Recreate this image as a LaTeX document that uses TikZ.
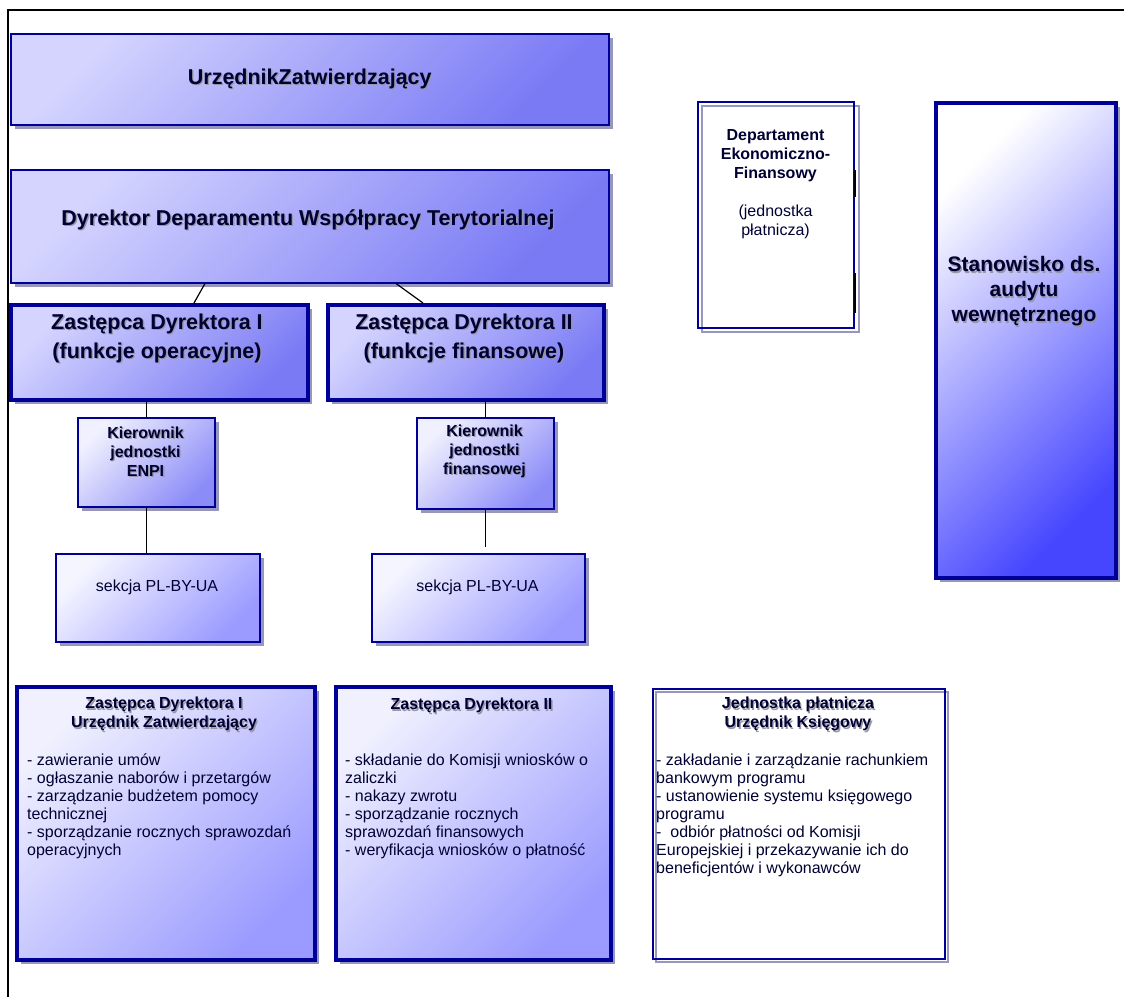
\documentclass[tikz,border=0pt]{standalone}
\usepackage{fontspec}
\setmainfont{Liberation Sans}
\usetikzlibrary{shadows}
\definecolor{bordc}{RGB}{0,0,153}
\definecolor{shadc}{RGB}{150,150,190}
\definecolor{txtc}{RGB}{0,0,51}
\definecolor{tshad}{RGB}{150,150,165}
\definecolor{c1l}{RGB}{212,212,255}
\definecolor{c1d}{RGB}{122,122,245}
\definecolor{kl}{RGB}{240,240,255}
\definecolor{kd}{RGB}{140,140,248}
\definecolor{sl}{RGB}{245,245,255}
\definecolor{sd}{RGB}{155,155,255}
\definecolor{stl}{RGB}{255,255,255}
\definecolor{std}{RGB}{70,70,255}
\newcommand\shtx[1]{\rlap{\hspace{1.3pt}\raisebox{-1.3pt}{\textcolor{tshad}{#1}}}#1}
\tikzset{
  shad/.style={drop shadow={shadow xshift=4pt, shadow yshift=-4pt, fill=shadc, opacity=1}},
  gbox/.style n args={2}{top color=#1, bottom color=#2, shading angle=45, draw=bordc, inner sep=0pt, anchor=north west, shad},
  thinb/.style={line width=1.5pt},
  midb/.style={line width=2pt},
  thickb/.style={line width=4pt},
  wbox/.style={draw=bordc, line width=1.5pt, inner sep=0pt, anchor=north west},
  lbl/.style={text=txtc, inner sep=0pt, align=center},
  lst/.style={text=txtc, inner sep=0pt, align=left, anchor=north west, font=\fontsize{16}{18}\selectfont},
  ttl/.style={text=txtc, inner sep=0pt, align=center, anchor=north, font=\fontsize{16}{19}\selectfont\bfseries},
  conn/.style={draw=black, line width=1.2pt},
}
\begin{document}
\begin{tikzpicture}[x=1pt,y=-1pt]
\useasboundingbox (0,0) rectangle (1124,997);
% frame
\draw[line width=2pt] (8,997) -- (8,10) -- (1124,10);

% boxes
\node[gbox={c1l}{c1d}, thinb, minimum width=598pt, minimum height=91pt] (uz) at (10,33) {};
\node[gbox={c1l}{c1d}, thinb, minimum width=598pt, minimum height=113pt] (dyr) at (10,169) {};

\node[gbox={c1l}{c1d}, thickb, minimum width=297pt, minimum height=95pt] (zI) at (9,303) {};
\node[gbox={c1l}{c1d}, thickb, minimum width=276pt, minimum height=95pt] (zII) at (326,303) {};
\node[gbox={kl}{kd}, midb, minimum width=137pt, minimum height=89pt] (kE) at (77,417) {};
\node[gbox={kl}{kd}, midb, minimum width=137pt, minimum height=91pt] (kF) at (416,417) {};
\node[gbox={sl}{sd}, thinb, minimum width=204pt, minimum height=88pt] (s1) at (55,553) {};
\node[gbox={sl}{sd}, thinb, minimum width=213pt, minimum height=88pt] (s2) at (371,553) {};

\draw[conn] ([xshift=-104.75pt]dyr.south) -- ([xshift=34.5pt]zI.north);
\draw[conn] ([xshift=86.25pt]dyr.south) -- ([xshift=-43pt]zII.north);
\draw[conn] (kE.north |- zI.south) -- (kE.north);
\draw[conn] (kE.south) -- (kE.south |- s1.north);
\draw[conn] (kF.north |- zII.south) -- (kF.north);
\draw[conn] (kF.south) -- ([yshift=6pt]kF.south |- s2.north);

% right side
\draw[shadc, line width=1.5pt] (702,106) rectangle (859,332);
\node[wbox, midb, minimum width=156pt, minimum height=226pt] (dep) at (697,101) {};
\draw[line width=2pt] ([yshift=-69pt]dep.north east) -- ([yshift=-96pt]dep.north east);
\draw[line width=2pt] ([yshift=-172pt]dep.north east) -- ([yshift=-212pt]dep.north east);

\node[gbox={stl}{std}, thickb, minimum width=180pt, minimum height=475pt] (stan) at (934,101) {};

% bottom boxes
\node[gbox={kl}{sd}, thickb, minimum width=298pt, minimum height=273pt] (bA) at (15,685) {};
\node[gbox={kl}{sd}, thickb, minimum width=275pt, minimum height=273pt] (bB) at (334,685) {};
\draw[shadc, line width=1.5pt] (656,692) rectangle (948,962);
\node[wbox, minimum width=292pt, minimum height=270pt] (bC) at (652,688) {};

% texts
\node[lbl, font=\fontsize{21.5}{25}\selectfont\bfseries] (tuz) at (uz.center) {\shtx{UrzędnikZatwierdzający}};
\node[lbl, font=\fontsize{21.5}{25}\selectfont\bfseries] (tdyr) at (308,220) {\shtx{Dyrektor Deparamentu Współpracy Terytorialnej}};
\node[lbl, font=\fontsize{21.5}{29}\selectfont\bfseries] (tzI) at (157,339) {\shtx{Zastępca Dyrektora I}\\\shtx{(funkcje operacyjne)}};
\node[lbl, font=\fontsize{21.5}{29}\selectfont\bfseries] (tzII) at (464,339) {\shtx{Zastępca Dyrektora II}\\\shtx{(funkcje finansowe)}};
\node[lbl, font=\fontsize{16}{19}\selectfont\bfseries] (tkE) at (145.5,452) {\shtx{Kierownik}\\\shtx{jednostki}\\\shtx{ENPI}};
\node[lbl, font=\fontsize{16}{19}\selectfont\bfseries] (tkF) at (484.5,452) {\shtx{Kierownik}\\\shtx{jednostki}\\\shtx{finansowej}};
\node[lbl, font=\fontsize{16}{19}\selectfont] (ts1) at (157,587) {sekcja PL-BY-UA};
\node[lbl, font=\fontsize{16}{19}\selectfont] (ts2) at (477.5,587) {sekcja PL-BY-UA};
\node[lbl, anchor=north, font=\fontsize{16}{19}\selectfont\bfseries] (tdep) at (775.5,129) {Departament\\Ekonomiczno-\\Finansowy\\[19pt]{\mdseries (jednostka}\\{\mdseries płatnicza)}};
\node[lbl, font=\fontsize{21}{25}\selectfont\bfseries] (tstan) at (1024,292) {\shtx{Stanowisko ds.}\\\shtx{audytu}\\\shtx{wewnętrznego}};

\node[ttl] (tA) at (164,697) {\shtx{Zastępca Dyrektora I}\\\shtx{Urzędnik Zatwierdzający}};
\node[lst] (lA) at (27,754) {- zawieranie umów\\- ogłaszanie naborów i przetargów\\- zarządzanie budżetem pomocy\\technicznej\\- sporządzanie rocznych sprawozdań\\operacyjnych};
\node[ttl] (tB) at (471.5,698) {\shtx{Zastępca Dyrektora II}};
\node[lst] (lB) at (345,754) {- składanie do Komisji wniosków o\\zaliczki\\- nakazy zwrotu\\- sporządzanie rocznych\\sprawozdań finansowych\\- weryfikacja wniosków o płatność};
\node[ttl] (tC) at (798,697) {\shtx{Jednostka płatnicza}\\\shtx{Urzędnik Księgowy}};
\node[lst] (lC) at (656,754) {- zakładanie i zarządzanie rachunkiem\\bankowym programu\\- ustanowienie systemu księgowego\\programu\\-\ \ odbiór płatności od Komisji\\Europejskiej i przekazywanie ich do\\beneficjentów i wykonawców};
\end{tikzpicture}
\end{document}
